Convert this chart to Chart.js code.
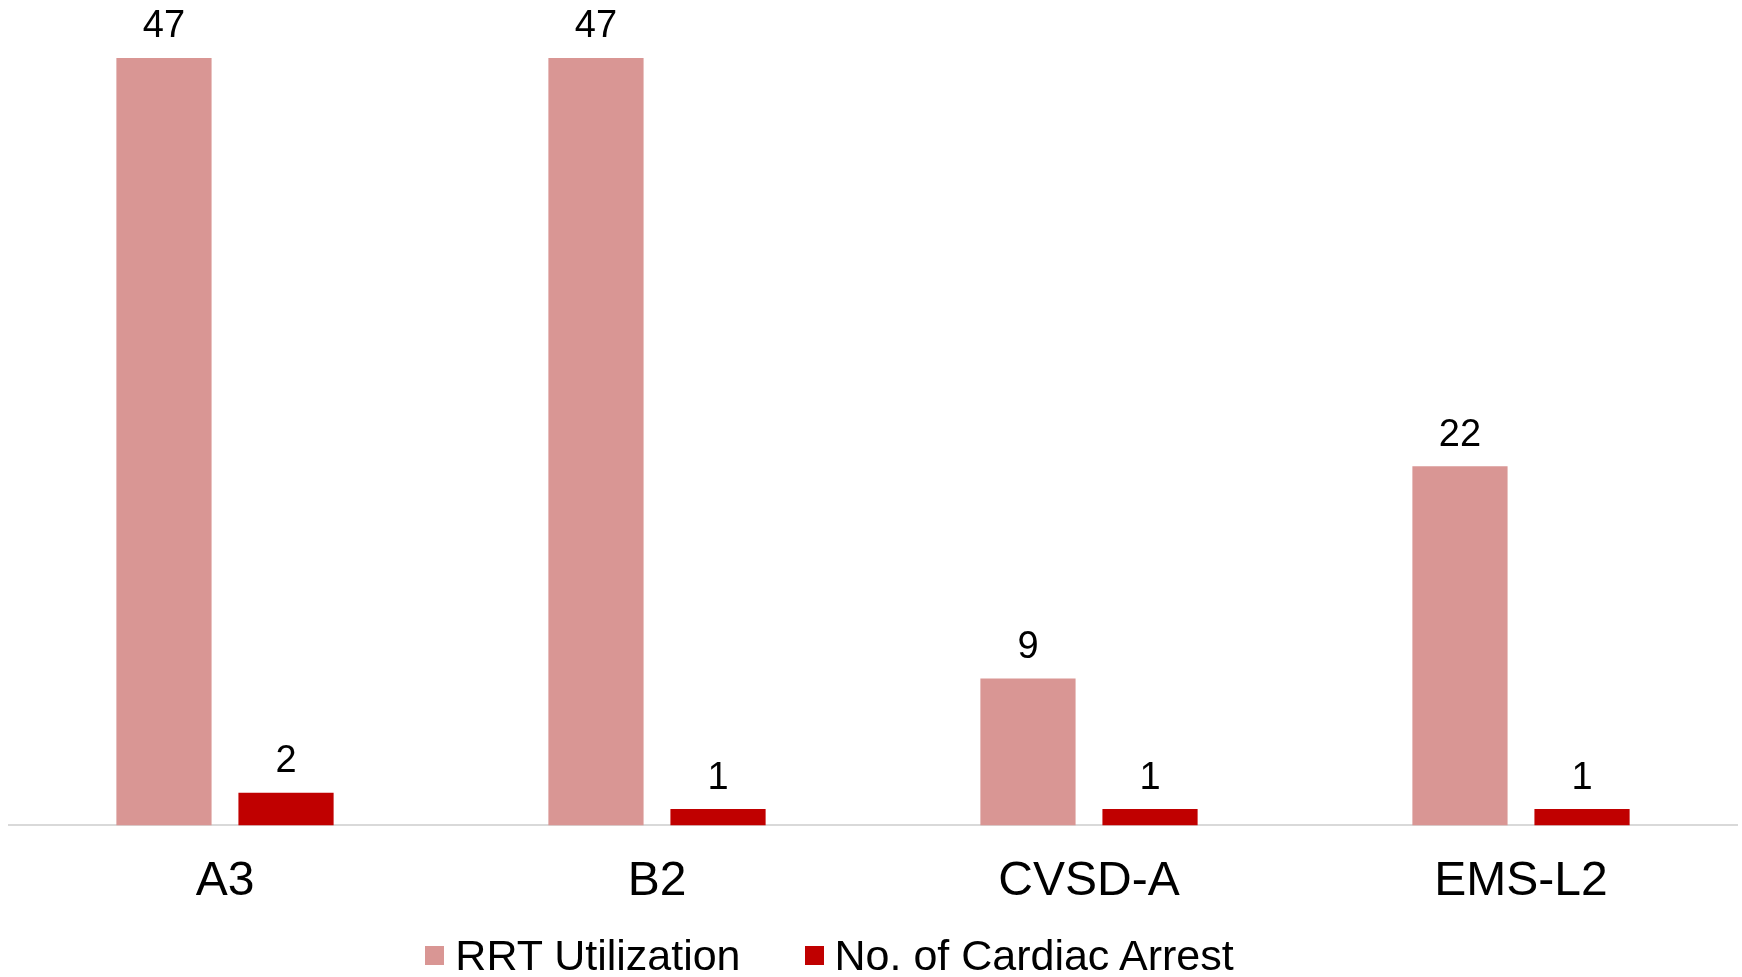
<!DOCTYPE html>
<html>
<head>
<meta charset="utf-8">
<title>RRT Utilization vs Cardiac Arrest</title>
<script src="https://cdn.jsdelivr.net/npm/chart.js@4.4.0/dist/chart.umd.min.js"></script>
<style>
  body { margin: 0; background: #fff; }
  #wrap { position: relative; width: 1742px; height: 977px; }
  #legend {
    position: absolute; left: 0; top: 930px; width: 1659px; height: 50px;
    display: flex; justify-content: center; align-items: center;
    font-family: "Liberation Sans", Arial, sans-serif; font-size: 43px; color: #000;
  }
  #legend .item { display: flex; align-items: center; margin: 0 32px; white-space: nowrap; }
  #legend .box { width: 19px; height: 19px; margin-right: 11px; }
</style>
</head>
<body>
<div id="wrap">
  <canvas id="rrtChart" width="1742" height="977"></canvas>
  <div id="legend"></div>
</div>
<script>
// chart data
var categories = ['A3', 'B2', 'CVSD-A', 'EMS-L2'];
var rrtUtilization = [47, 47, 9, 22];
var cardiacArrest = [2, 1, 1, 1];
var seriesNames = ['RRT Utilization', 'No. of Cardiac Arrest'];

var FONT = '"Liberation Sans", Arial, sans-serif';

// draw value labels above each bar
var valueLabels = {
    id: 'valueLabels',
    afterDatasetsDraw: function(chart) {
        var ctx = chart.ctx;
        ctx.save();
        ctx.font = '38px ' + FONT;
        ctx.fillStyle = '#000';
        ctx.textAlign = 'center';
        ctx.textBaseline = 'middle';
        chart.data.datasets.forEach(function(ds, i) {
            chart.getDatasetMeta(i).data.forEach(function(bar, j) {
                ctx.fillText(ds.data[j], bar.x, bar.y - 31);
            });
        });
        ctx.restore();
    }
};

var ctx = document.getElementById('rrtChart').getContext('2d');
var rrtChart = new Chart(ctx, {
    type: 'bar',
    data: {
        labels: categories,
        datasets: [{
            label: seriesNames[0],
            data: rrtUtilization,
            backgroundColor: '#d99694'
        }, {
            label: seriesNames[1],
            data: cardiacArrest,
            backgroundColor: '#c00000'
        }]
    },
    options: {
        responsive: false,
        animation: false,
        categoryPercentage: 0.565,
        barPercentage: 0.78,
        layout: { padding: { top: 9, left: 9, right: 5, bottom: 38 } },
        plugins: {
            legend: { display: false },
            tooltip: { enabled: false }
        },
        scales: {
            y: { display: false, min: 0, max: 50 },
            x: {
                grid: { display: false, drawTicks: false },
                border: { display: true, color: '#d9d9d9', width: 2 },
                ticks: {
                    color: '#000',
                    padding: 28,
                    font: { family: FONT, size: 48 }
                }
            }
        }
    },
    plugins: [valueLabels]
});

// html legend built from the chart's own legend items
var legendEl = document.getElementById('legend');
rrtChart.options.plugins.legend.labels.generateLabels(rrtChart).forEach(function(item) {
    var div = document.createElement('div');
    div.className = 'item';
    var box = document.createElement('span');
    box.className = 'box';
    box.style.background = item.fillStyle;
    var txt = document.createElement('span');
    txt.textContent = item.text;
    div.appendChild(box);
    div.appendChild(txt);
    legendEl.appendChild(div);
});
</script>
</body>
</html>
